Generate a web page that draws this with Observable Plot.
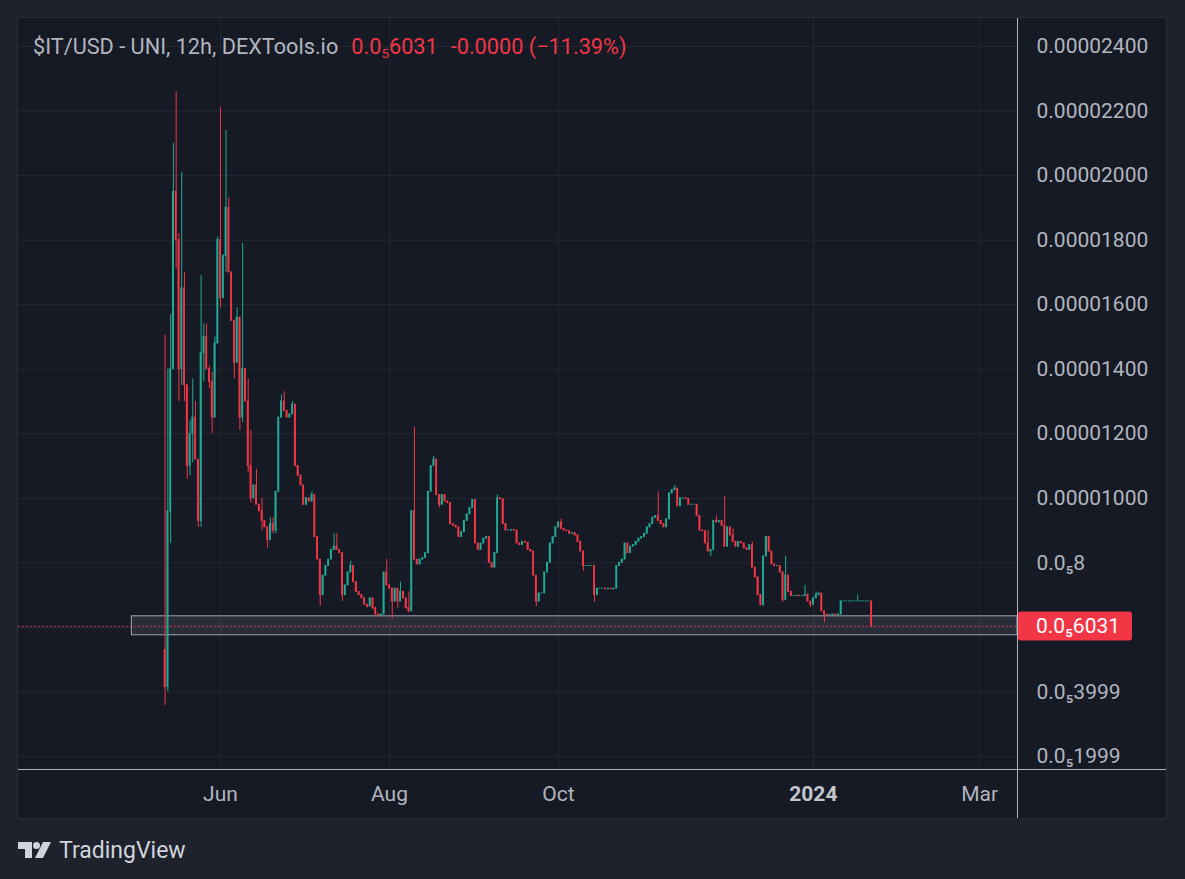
<!DOCTYPE html>
<html><head><meta charset="utf-8">
<script src="https://cdn.jsdelivr.net/npm/d3@7"></script>
<script src="https://cdn.jsdelivr.net/npm/@observablehq/plot@0.6"></script>
<style>
html,body{margin:0;padding:0;background:#1e222d;width:1185px;height:879px;overflow:hidden;font-family:Roboto,"Noto Sans",sans-serif;}
#panel{position:absolute;left:18px;top:18px;width:1148px;height:800px;background:#161a25;outline:1px solid #2a2e39;}
#panel svg{position:absolute;left:0;top:0;}
#title{position:absolute;left:33px;top:35px;font-size:21.7px;line-height:24px;color:#b2b5be;white-space:nowrap;}
#title .r{color:#f23645;margin-left:13px;}
#title sub{font-size:0.62em;vertical-align:-0.3em;line-height:0;}
#logo{position:absolute;left:18px;top:836px;height:28px;display:flex;align-items:center;color:#d1d4dc;font-size:23px;}
#logo svg{margin-right:7px;}
</style></head>
<body>
<div id="panel"></div>
<div id="title"><span>$IT/USD - UNI, 12h, DEXTools.io</span><span class="r">0.0<sub>5</sub>6031</span><span class="r">-0.0000 (−11.39%)</span></div>
<div id="logo"><svg width="34" height="18" viewBox="0 0 34 18"><path d="M0 1h14v16h-7v-9h-7z" fill="#d1d4dc"/><circle cx="18.5" cy="4.5" r="3.5" fill="#d1d4dc"/><path d="M25 1h8l-8 16h-8z" fill="#d1d4dc"/></svg><span>TradingView</span></div>
<script>
// Prices in millionths of USD (×1e-6), one candle per day starting at startDate
const startDate = "2023-05-12";
const firstOpen = 5.3;
const closes = [
 4.15,9.6,14.0,19.5,18.0,14.0,16.5,13.5,11.0,12.0,
 12.5,11.2,9.3,14.5,15.0,14.0,13.6,12.5,14.8,18.0,
 16.2,17.5,19.0,17.0,15.5,14.2,15.6,12.5,14.0,13.0,
 11.0,10.0,10.4,9.8,9.6,9.3,9.1,8.7,9.2,9.0,
 10.2,12.5,13.0,12.7,12.5,12.6,12.9,11.0,10.7,10.4,
 9.8,10.0,9.9,10.1,8.8,8.1,7.0,7.6,7.9,8.1,
 8.4,8.5,8.4,8.3,7.0,7.3,7.7,7.9,7.4,7.1,
 7.0,6.9,6.7,6.65,6.9,6.6,6.4,6.35,6.4,7.7,
 7.3,7.2,6.8,7.2,6.8,7.1,6.9,6.6,6.5,9.6,
 8.1,7.95,8.1,8.15,8.3,10.2,11.0,11.2,10.1,9.8,
 10.1,9.9,9.85,9.2,9.15,9.1,8.8,8.95,9.3,9.5,
 9.7,9.95,8.6,8.4,8.6,8.75,8.8,8.0,7.85,8.3,
 10.0,9.97,9.2,9.0,9.0,9.02,9.0,8.6,8.55,8.65,
 8.62,8.4,8.35,7.6,6.8,7.05,7.05,7.7,8.0,8.6,
 8.8,9.1,9.25,9.05,9.0,8.98,8.9,8.92,8.85,8.65,
 8.35,7.9,7.9,7.9,7.9,7.0,7.2,7.2,7.2,7.18,
 7.2,7.18,7.2,7.9,8.0,8.1,8.6,8.3,8.5,8.55,
 8.65,8.75,8.8,8.9,9.1,9.2,9.4,9.45,9.3,9.2,
 9.1,9.35,10.15,10.25,10.3,9.75,10.0,10.0,9.98,9.8,
 9.8,9.8,9.45,9.0,8.98,8.6,8.35,8.4,9.3,9.25,
 9.3,9.15,8.5,9.1,8.85,8.65,8.5,8.65,8.6,8.45,
 8.4,8.55,7.85,7.55,7.0,6.7,8.2,8.8,8.35,7.95,
 7.9,7.9,7.7,6.85,7.6,7.1,6.97,6.97,6.98,6.97,
 6.97,7.0,6.8,6.7,6.9,7.0,7.05,6.5,6.4,6.38,
 6.38,6.4,6.38,6.4,6.806,6.806,6.806,6.806,6.806,6.806,
 6.806,6.806,6.806,6.806,6.806,6.031
];
const highDays = [0,1,2,3,4,5,6,7,9,10,11,13,14,15,16,17,18,19,20,21,22,23,25,26,27,28,30,31,33,35,38,39,42,43,46,53,61,62,67,80,85,88,90,97,120,143,178,184,196,199,202,205,212,224,231,232,235,250];
const highVals = [15.05,14.0,15.7,21.0,22.6,18.2,20.1,17.0,12.4,13.7,13.0,16.9,15.4,15.4,14.1,13.9,15.0,18.1,22.1,17.55,21.4,19.3,15.5,15.9,15.6,17.9,13.7,12.1,10.9,10.0,9.4,9.4,13.2,13.3,13.0,10.2,8.9,8.9,8.05,8.1,7.4,7.1,12.2,11.3,10.1,9.35,10.2,10.4,9.0,9.45,10.06,9.05,8.64,8.2,7.3,7.05,7.1,7.0];
const lowDays = [0,1,2,3,4,5,6,7,8,9,10,12,13,14,16,17,20,22,25,27,28,30,31,35,37,39,40,56,64,73,75,77,82,84,87,88,99,134,151,155,197,215,216,223,233,238];
const lowVals = [3.58,4.0,8.6,14.0,17.1,13.0,13.5,13.0,10.6,10.7,11.1,9.1,9.1,13.6,13.4,12.0,15.9,17.0,13.7,12.1,12.35,10.8,9.85,9.0,8.45,8.9,8.9,6.66,6.8,6.6,6.55,6.3,6.26,6.6,6.56,6.45,9.7,6.65,7.74,6.78,8.2,6.66,6.65,6.78,6.62,6.15];

const yTicks = [2,4,6,8,10,12,14,16,18,20,22,24];
const yTickLabels = ["0.0₅1999","0.0₅3999","0.0₅6","0.0₅8","0.00001000","0.00001200","0.00001400","0.00001600","0.00001800","0.00002000","0.00002200","0.00002400"];
const xTicks = ["2023-06-01","2023-08-01","2023-10-01","2024-01-01","2024-03-01"];
const xTickLabels = ["Jun","Aug","Oct","2024","Mar"];
const lastPrice = 6.031;
const lastPriceLabel = "0.0₅6031";
const zoneStart = "2023-04-30";
const zoneLow = 5.755, zoneHigh = 6.343;
const xDomain = ["2023-03-20T02:10Z","2024-03-14T16:20Z"];
const yDomain = [1.596, 24.868];

const UP = "#22ab94", DOWN = "#f23645";

const t0 = Date.parse(startDate + "T00:00Z");
const hiMap = new Map(highDays.map((d,i)=>[d, highVals[i]]));
const loMap = new Map(lowDays.map((d,i)=>[d, lowVals[i]]));
const candles = closes.map((c,i)=>{
  const open = i===0 ? firstOpen : closes[i-1];
  const date = new Date(t0 + i*864e5);
  const high = Math.max(open, c, hiMap.has(i) ? hiMap.get(i) : -Infinity);
  const low = Math.min(open, c, loMap.has(i) ? loMap.get(i) : Infinity);
  return {date, open, close:c, high, low, col: c >= open ? UP : DOWN};
});
const xTickDates = xTicks.map(d=>new Date(d+"T00:00Z"));
const labelOf = d => xTickLabels[xTickDates.findIndex(t=>+t===+d)];

const plot = Plot.plot({
  width:1148, height:800,
  marginLeft:0, marginRight:149, marginTop:0, marginBottom:49,
  style:{background:"transparent", color:"#b2b5be", fontFamily:"Roboto, 'Noto Sans', sans-serif", overflow:"visible"},
  x:{type:"utc", domain:xDomain.map(d=>new Date(d))},
  y:{domain:yDomain},
  color:{type:"identity"},
  marks:[
    Plot.gridY(yTicks, {stroke:"#242835", strokeOpacity:1}),
    Plot.gridX(xTickDates, {stroke:"#242835", strokeOpacity:1}),
    Plot.rect([{a:new Date(zoneStart+"T00:00Z"), b:new Date(xDomain[1]), lo:zoneLow, hi:zoneHigh}],
      {x1:"a", x2:"b", y1:"lo", y2:"hi", fill:"#787b86", fillOpacity:0.2, stroke:"#a3a6af", strokeWidth:1}),
    Plot.ruleY([lastPrice], {stroke:DOWN, strokeDasharray:"1.5,2.5", strokeWidth:1}),
    Plot.ruleX(candles, {x:"date", y1:"low", y2:"high", stroke:"col", strokeWidth:1}),
    Plot.rect(candles, {x1:d=>new Date(+d.date-8*36e5), x2:d=>new Date(+d.date+8*36e5), y1:"open", y2:"close", fill:"col", insetTop:-0.5, insetBottom:-0.5}),
    Plot.axisY(yTicks.filter(v=>v!==6), {anchor:"right", tickSize:0, tickPadding:19, textAnchor:"start",
      tickFormat:v=>yTickLabels[yTicks.indexOf(v)], fontSize:21, fill:"#b2b5be"}),
    Plot.axisX(xTickDates.filter((d,i)=>xTickLabels[i]!=="2024"), {anchor:"bottom", tickSize:0, tickPadding:17,
      tickFormat:labelOf, fontSize:21, fill:"#b2b5be"}),
    Plot.axisX(xTickDates.filter((d,i)=>xTickLabels[i]==="2024"), {anchor:"bottom", tickSize:0, tickPadding:17,
      tickFormat:labelOf, fontSize:21, fontWeight:"bold", fill:"#c4c7ce"})
  ]
});
document.getElementById("panel").appendChild(plot);

// frame lines and last-price tag, positioned through the plot's scales
const sx = plot.scale("x"), sy = plot.scale("y");
const xr = sx.range[1], yb = sy.range[0];
const svg = d3.select(plot);
svg.append("line").attr("x1",xr+0.5).attr("x2",xr+0.5).attr("y1",0).attr("y2",800).attr("stroke","#b2b5be").attr("stroke-width",1);
svg.append("line").attr("x1",0).attr("x2",1148).attr("y1",yb+0.5).attr("y2",yb+0.5).attr("stroke","#b2b5be").attr("stroke-width",1);
const py = sy.apply(lastPrice);
svg.append("rect").attr("x",xr+1).attr("y",py-14.5).attr("width",114).attr("height",29).attr("rx",3).attr("fill",DOWN);
svg.append("text").attr("x",xr+19).attr("y",py).attr("dy","0.35em").attr("text-anchor","start").attr("fill","#ffffff").attr("font-size",21)
  .attr("font-family","Roboto, 'Noto Sans', sans-serif").text(lastPriceLabel);
</script>
</body></html>
